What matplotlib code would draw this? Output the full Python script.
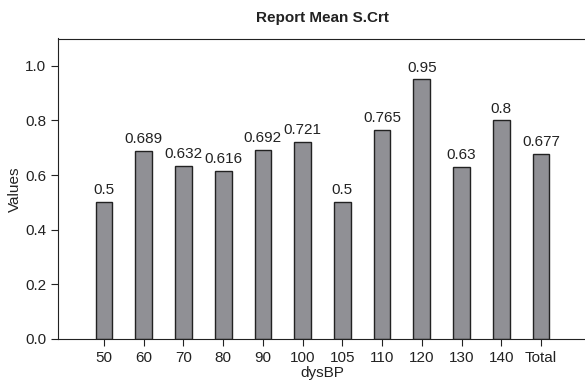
import matplotlib.pyplot as plt
from matplotlib import font_manager

cats = ["50", "60", "70", "80", "90", "100", "105", "110", "120", "130", "140", "Total"]
vals = [0.5, 0.689, 0.632, 0.616, 0.692, 0.721, 0.5, 0.765, 0.95, 0.63, 0.8, 0.677]
labels = ["0.5", "0.689", "0.632", "0.616", "0.692", "0.721", "0.5", "0.765", "0.95", "0.63", "0.8", "0.677"]

names = {f.name for f in font_manager.fontManager.ttflist}
fam = "Liberation Sans Narrow" if "Liberation Sans Narrow" in names else "Liberation Sans"
plt.rcParams['font.family'] = [fam, 'DejaVu Sans']

fig = plt.figure(figsize=(5.85, 3.84), dpi=100)
ax = fig.add_axes([58/585, 45/384, 529/585, 300.5/384])

x = list(range(len(cats)))
ax.bar(x, vals, width=0.42, color="#909095", edgecolor="#222222", linewidth=1)
for xi, v, lab in zip(x, vals, labels):
    ax.text(xi, v + 0.018, lab, ha="center", va="bottom", fontsize=11, color="#222222")

ax.set_xlim(-1.16, len(cats) - 1 + 1.16)
ax.set_ylim(0, 1.1)
ax.set_xticks(x)
ax.set_xticklabels(cats)
ax.set_yticks([0.0, 0.2, 0.4, 0.6, 0.8, 1.0])
ax.set_yticklabels(["0.0", "0.2", "0.4", "0.6", "0.8", "1.0"])
ax.tick_params(labelsize=11, length=5, color="#222222", labelcolor="#222222")
for s in ax.spines.values():
    s.set_color("#222222")
ax.spines["right"].set_visible(False)
ax.set_xlabel("dysBP", fontsize=11, labelpad=1, color="#222222")
ax.set_ylabel("Values", fontsize=11, labelpad=2, color="#222222")
ax.set_title("Report Mean S.Crt", fontsize=11, fontweight="bold", pad=12, color="#222222")

fig.savefig("out.png", dpi=100)
